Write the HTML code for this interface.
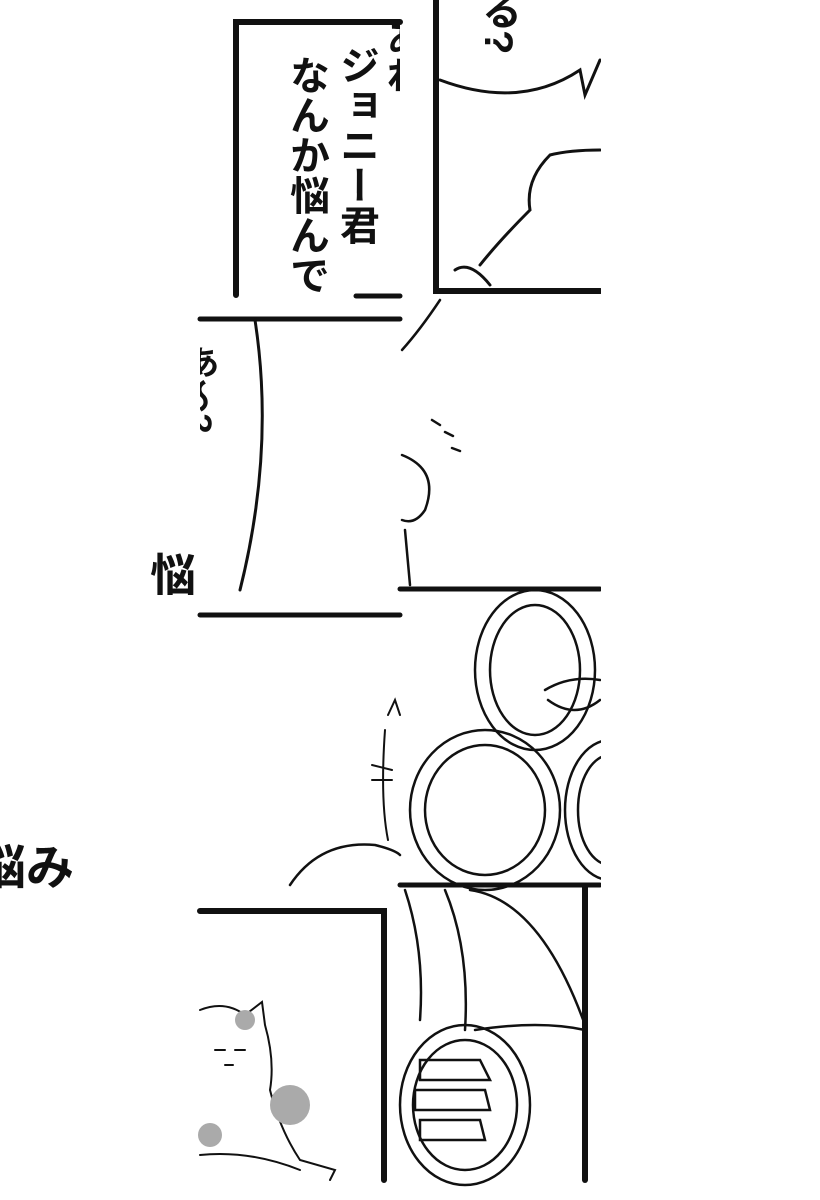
<!DOCTYPE html>
<html><head><meta charset="utf-8"><style>
html,body{margin:0;padding:0;background:#fff;width:820px;height:1200px;overflow:hidden;position:relative}
.t{position:absolute;font-family:"Liberation Sans","Noto Sans CJK JP",sans-serif;font-weight:bold;color:#111;white-space:nowrap}
.v{writing-mode:vertical-rl;line-height:1;height:600px}
.clip{position:absolute;overflow:hidden}
</style></head><body>
<svg width="820" height="1200" style="position:absolute;left:0;top:0" fill="none" stroke="#111" stroke-linecap="round">
<defs><clipPath id="c"><rect x="0" y="0" width="601" height="1200"/></clipPath></defs>
<g clip-path="url(#c)">
<path d="M236 295 V22 H400" stroke-width="6"/>
<path d="M356 296 H400" stroke-width="5"/>
<path d="M436 0 V291 H600" stroke-width="6"/>
<path d="M440 80 Q520 110 580 70 L585 95 L600 60" stroke-width="3"/>
<path d="M600 150 Q570 150 550 155 Q525 180 530 210 Q500 240 480 265" stroke-width="3"/>
<path d="M455 270 Q470 260 490 285" stroke-width="3"/>
<path d="M200 319 H400" stroke-width="5"/>
<path d="M255 320 Q275 450 240 590" stroke-width="3"/>
<path d="M440 300 Q420 330 402 350" stroke-width="2.5"/>
<path d="M402 455 Q440 470 425 510 Q415 525 402 520" stroke-width="2.5"/>
<path d="M405 530 L410 585" stroke-width="2.5"/>
<path d="M432 420 l8 5 M445 432 l8 4 M452 448 l8 3" stroke-width="2.5"/>
<path d="M400 589 H600" stroke-width="5"/>
<path d="M200 615 H400" stroke-width="5"/>
<path d="M290 885 Q320 840 375 845 Q395 850 400 855" stroke-width="2.5"/>
<path d="M388 715 L395 700 L400 715 M385 730 Q380 800 388 840 M372 765 l20 5 M372 780 l20 0" stroke-width="2"/>
<g stroke-width="2.5">
<ellipse cx="535" cy="670" rx="60" ry="80"/><ellipse cx="535" cy="670" rx="45" ry="65"/>
<ellipse cx="485" cy="810" rx="75" ry="80"/><ellipse cx="485" cy="810" rx="60" ry="65"/>
<ellipse cx="610" cy="810" rx="45" ry="70"/><ellipse cx="610" cy="810" rx="32" ry="55"/>
<path d="M545 690 Q570 675 600 680 M548 700 Q575 720 600 700"/>
</g>
<path d="M400 885 H600" stroke-width="5"/>
<path d="M200 911 H384 V1180" stroke-width="6"/>
<g stroke-width="2">
<path d="M200 1010 Q225 1000 245 1015 L262 1002 L265 1025 Q275 1060 270 1090 Q280 1130 300 1160 L335 1170 L330 1180"/>
<path d="M200 1155 Q250 1150 300 1170"/>
<path d="M215 1050 l10 0 M235 1050 l10 0 M225 1065 l8 0"/>
</g>
<circle cx="245" cy="1020" r="10" fill="#aaa" stroke="none"/>
<circle cx="290" cy="1105" r="20" fill="#aaa" stroke="none"/>
<circle cx="210" cy="1135" r="12" fill="#aaa" stroke="none"/>
<g stroke-width="2.5">
<path d="M405 890 Q425 950 420 1020 M445 890 Q470 950 465 1030"/>
<path d="M470 890 Q540 900 585 1025 M475 1030 Q540 1020 585 1030"/>
<ellipse cx="465" cy="1105" rx="65" ry="80"/><ellipse cx="465" cy="1105" rx="52" ry="65"/>
<path d="M420 1060 h60 l10 20 h-70z M415 1090 h70 l5 20 h-75z M420 1120 h60 l5 20 h-65z"/>
</g>
<path d="M585 887 V1180" stroke-width="6"/>
</g>
</svg>
<div class="clip" style="left:240px;top:0;width:160px;height:292px">
<div class="t v" style="left:142px;top:18px;font-size:38px">あれ</div>
<div class="t v" style="left:96px;top:45px;font-size:40px">ジョニー君</div>
<div class="t v" style="left:46px;top:55px;font-size:40px">なんか悩んでる</div>
</div>
<div class="clip" style="left:440px;top:0;width:160px;height:80px">
<div class="t v" style="left:38px;top:-10px;font-size:40px">る?</div>
</div>
<div class="clip" style="left:200px;top:330px;width:20px;height:250px">
<div class="t v" style="left:-18px;top:15px;font-size:34px">あ〜?</div>
</div>
<div class="clip" style="left:150px;top:535px;width:50px;height:60px">
<div class="t" style="left:0;top:5px;font-size:46px">悩</div>
</div>
<div class="clip" style="left:0;top:820px;width:90px;height:70px">
<div class="t" style="left:-22px;top:8px;font-size:48px">悩み</div>
</div>
</body></html>
